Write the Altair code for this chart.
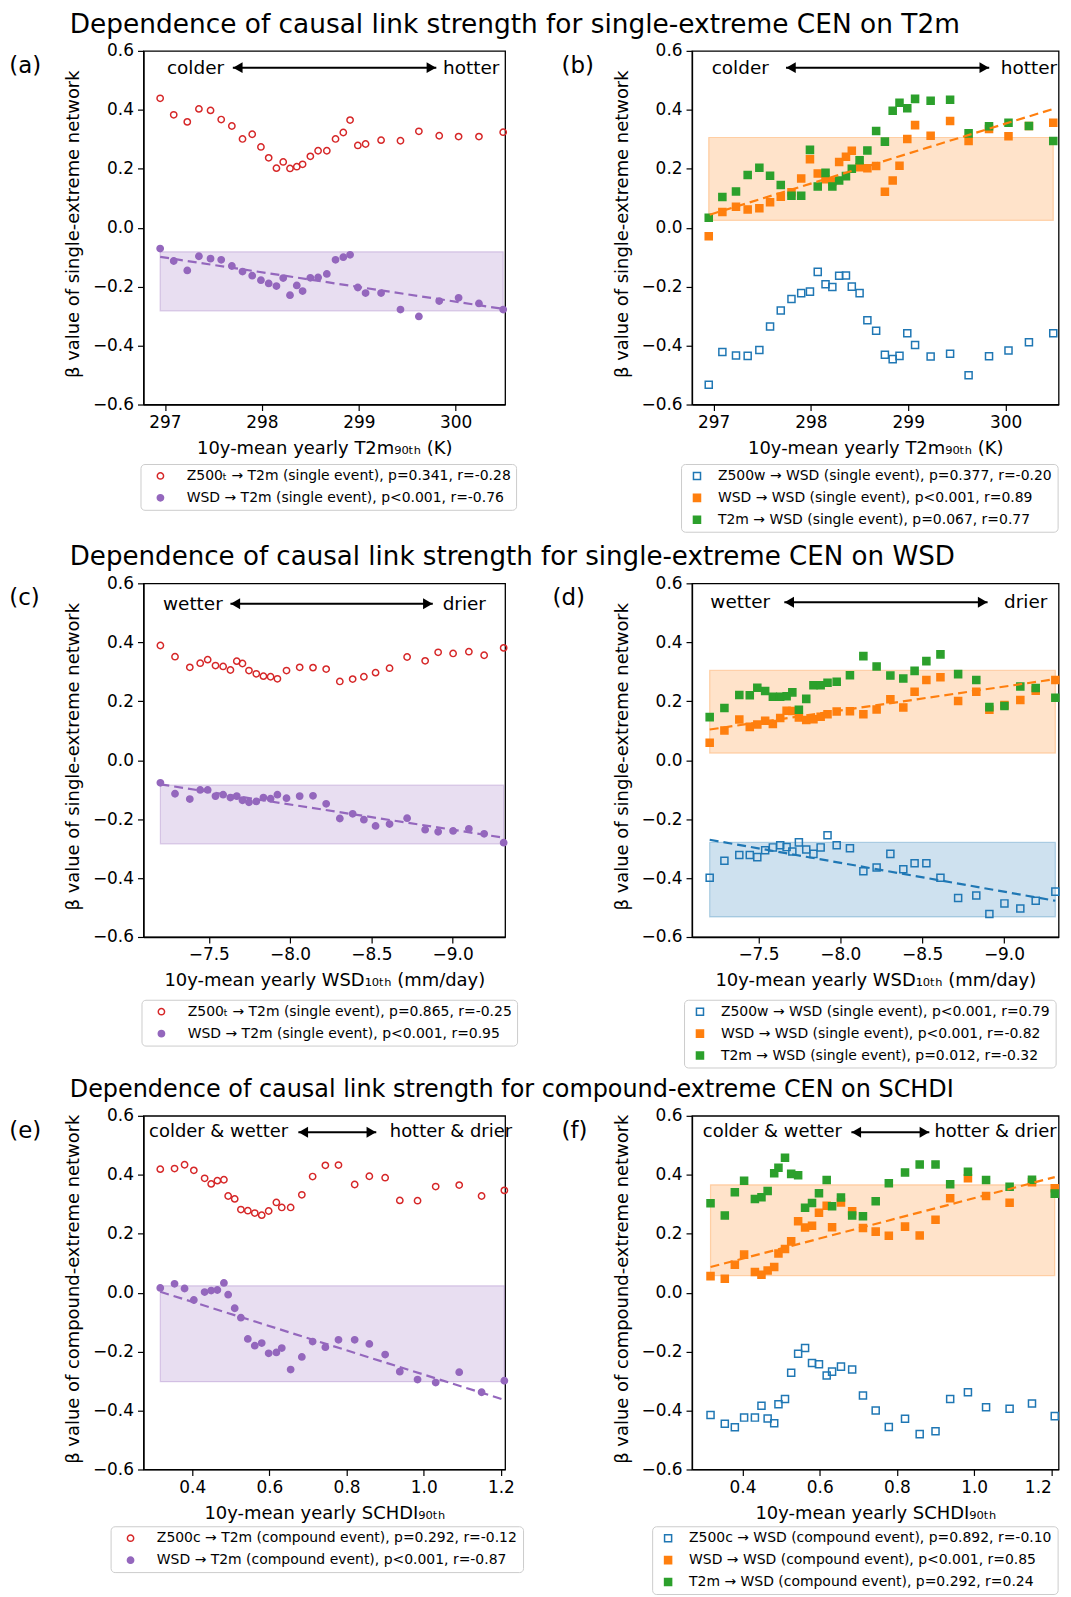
import altair as alt
import pandas as pd

FONT = "DejaVu Sans"
RED, PURPLE, BLUE, ORANGE, GREEN = "#d62728", "#9467bd", "#1f77b4", "#ff7f0e", "#2ca02c"

SECTION_TITLES = [
    "Dependence of causal link strength for single-extreme CEN on T2m",
    "Dependence of causal link strength for single-extreme CEN on WSD",
    "Dependence of causal link strength for compound-extreme CEN on SCHDI",
]
PANEL_LABELS = ["(a)", "(b)", "(c)", "(d)", "(e)", "(f)"]

# ---- x values (shared within each row) ----
T2M_X = [296.95, 297.09, 297.23, 297.35, 297.47, 297.58, 297.69, 297.80, 297.90, 297.99,
         298.07, 298.15, 298.22, 298.29, 298.36, 298.42, 298.50, 298.58, 298.67, 298.76,
         298.84, 298.91, 298.99, 299.07, 299.23, 299.43, 299.62, 299.83, 300.03, 300.24, 300.49]
WSD_X = [-7.202, -7.292, -7.383, -7.447, -7.493, -7.541, -7.588, -7.633, -7.672, -7.707,
         -7.747, -7.792, -7.836, -7.880, -7.922, -7.978, -8.059, -8.141, -8.222, -8.306,
         -8.385, -8.454, -8.526, -8.612, -8.720, -8.831, -8.911, -9.003, -9.100, -9.194, -9.314]
SCHDI_X = [0.317, 0.354, 0.380, 0.404, 0.432, 0.449, 0.465, 0.482, 0.493, 0.510,
           0.526, 0.544, 0.562, 0.580, 0.598, 0.618, 0.632, 0.655, 0.684, 0.712,
           0.745, 0.779, 0.821, 0.859, 0.900, 0.938, 0.984, 1.031, 1.092, 1.150, 1.209]

# ---- beta values ----
A_Z500 = [0.439, 0.383, 0.359, 0.403, 0.398, 0.367, 0.345, 0.301, 0.317, 0.274, 0.237, 0.202, 0.223,
          0.201, 0.207, 0.215, 0.242, 0.261, 0.261, 0.301, 0.323, 0.365, 0.279, 0.284, 0.297, 0.295,
          0.327, 0.312, 0.309, 0.309, 0.324]
A_WSD = [-0.071, -0.113, -0.145, -0.097, -0.105, -0.109, -0.130, -0.149, -0.163, -0.178, -0.189,
         -0.198, -0.171, -0.229, -0.196, -0.215, -0.170, -0.169, -0.157, -0.109, -0.100, -0.092,
         -0.203, -0.222, -0.222, -0.278, -0.301, -0.249, -0.238, -0.257, -0.278]

B_Z500 = [-0.533, -0.422, -0.434, -0.435, -0.415, -0.335, -0.281, -0.242, -0.222, -0.217, -0.150,
          -0.192, -0.201, -0.163, -0.162, -0.200, -0.222, -0.314, -0.350, -0.431, -0.446, -0.435,
          -0.358, -0.398, -0.437, -0.428, -0.501, -0.436, -0.417, -0.389, -0.358]
B_WSD = [-0.029, 0.053, 0.071, 0.062, 0.066, 0.086, 0.105, 0.120, 0.167, 0.232, 0.184, 0.164, 0.157,
         0.223, 0.241, 0.261, 0.205, 0.202, 0.209, 0.122, 0.160, 0.210, 0.301, 0.348, 0.312, 0.362,
         0.294, 0.335, 0.310, 0.345, 0.356]
B_T2M = [0.034, 0.104, 0.123, 0.179, 0.203, 0.176, 0.145, 0.108, 0.108, 0.264, 0.140, 0.186, 0.140,
         0.160, 0.175, 0.200, 0.229, 0.262, 0.328, 0.292, 0.397, 0.424, 0.405, 0.437, 0.431, 0.434,
         0.320, 0.344, 0.356, 0.345, 0.294]

C_Z500 = [0.389, 0.351, 0.315, 0.329, 0.341, 0.321, 0.318, 0.306, 0.336, 0.328, 0.304, 0.293, 0.285,
          0.283, 0.276, 0.304, 0.315, 0.314, 0.309, 0.267, 0.275, 0.283, 0.297, 0.312, 0.350, 0.337,
          0.366, 0.362, 0.368, 0.356, 0.381]
C_WSD = [-0.077, -0.114, -0.132, -0.101, -0.101, -0.122, -0.117, -0.127, -0.122, -0.136, -0.143,
         -0.140, -0.127, -0.131, -0.117, -0.129, -0.122, -0.121, -0.148, -0.198, -0.182, -0.202,
         -0.223, -0.217, -0.197, -0.236, -0.243, -0.240, -0.233, -0.250, -0.280]

D_Z500 = [-0.399, -0.341, -0.322, -0.322, -0.329, -0.306, -0.296, -0.289, -0.295, -0.310, -0.279,
          -0.303, -0.318, -0.296, -0.255, -0.289, -0.299, -0.377, -0.364, -0.318, -0.370, -0.350,
          -0.350, -0.399, -0.468, -0.459, -0.522, -0.486, -0.503, -0.477, -0.446]
D_WSD = [0.059, 0.101, 0.138, 0.113, 0.121, 0.134, 0.123, 0.143, 0.168, 0.167, 0.145, 0.136, 0.139,
         0.147, 0.156, 0.165, 0.166, 0.156, 0.172, 0.207, 0.179, 0.232, 0.272, 0.281, 0.201, 0.232,
         0.171, 0.187, 0.204, 0.236, 0.272]
D_T2M = [0.146, 0.177, 0.221, 0.220, 0.246, 0.235, 0.215, 0.215, 0.217, 0.230, 0.171, 0.208, 0.254,
         0.254, 0.263, 0.266, 0.288, 0.353, 0.318, 0.287, 0.277, 0.303, 0.336, 0.359, 0.292, 0.272,
         0.180, 0.184, 0.250, 0.245, 0.212]

E_Z500 = [0.419, 0.421, 0.434, 0.415, 0.388, 0.369, 0.380, 0.383, 0.328, 0.318, 0.282, 0.278, 0.270,
          0.263, 0.277, 0.306, 0.289, 0.289, 0.332, 0.394, 0.432, 0.433, 0.367, 0.395, 0.390, 0.313,
          0.312, 0.360, 0.365, 0.328, 0.347]
E_WSD = [0.016, 0.030, 0.014, -0.025, 0.002, 0.007, 0.009, 0.033, -0.007, -0.053, -0.085, -0.157,
         -0.180, -0.171, -0.206, -0.203, -0.188, -0.261, -0.218, -0.166, -0.185, -0.160, -0.160,
         -0.174, -0.210, -0.268, -0.295, -0.305, -0.270, -0.338, -0.299]

F_Z500 = [-0.415, -0.445, -0.457, -0.424, -0.424, -0.384, -0.427, -0.443, -0.379, -0.361, -0.272,
          -0.207, -0.188, -0.239, -0.243, -0.281, -0.268, -0.251, -0.261, -0.349, -0.400, -0.456,
          -0.428, -0.480, -0.470, -0.361, -0.338, -0.389, -0.394, -0.376, -0.419]
F_WSD = [0.056, 0.047, 0.095, 0.129, 0.070, 0.061, 0.075, 0.087, 0.133, 0.148, 0.174, 0.242, 0.221,
         0.227, 0.271, 0.295, 0.222, 0.306, 0.276, 0.219, 0.207, 0.193, 0.224, 0.194, 0.247, 0.320,
         0.388, 0.328, 0.305, 0.375, 0.354]
F_T2M = [0.303, 0.262, 0.341, 0.380, 0.318, 0.324, 0.345, 0.405, 0.424, 0.458, 0.403, 0.398, 0.288,
         0.304, 0.337, 0.382, 0.293, 0.323, 0.262, 0.259, 0.310, 0.371, 0.408, 0.435, 0.435, 0.368,
         0.410, 0.382, 0.359, 0.383, 0.336]

# ---- legend labels ----
LEG_A = ["Z500ₜ → T2m (single event), p=0.341, r=-0.28", "WSD → T2m (single event), p<0.001, r=-0.76"]
LEG_B = ["Z500w → WSD (single event), p=0.377, r=-0.20", "WSD → WSD (single event), p<0.001, r=0.89",
         "T2m → WSD (single event), p=0.067, r=0.77"]
LEG_C = ["Z500ₜ → T2m (single event), p=0.865, r=-0.25", "WSD → T2m (single event), p<0.001, r=0.95"]
LEG_D = ["Z500w → WSD (single event), p<0.001, r=0.79", "WSD → WSD (single event), p<0.001, r=-0.82",
         "T2m → WSD (single event), p=0.012, r=-0.32"]
LEG_E = ["Z500c → T2m (compound event), p=0.292, r=-0.12", "WSD → T2m (compound event), p<0.001, r=-0.87"]
LEG_F = ["Z500c → WSD (compound event), p=0.892, r=-0.10", "WSD → WSD (compound event), p<0.001, r=0.85",
         "T2m → WSD (compound event), p=0.292, r=0.24"]

# ---- regression line end points and shaded ranges ----
LINE_A = [(296.95, 300.50, -0.099, -0.276, PURPLE)]
LINE_B = [(296.96, 300.49, 0.044, 0.403, ORANGE)]
LINE_C = [(-7.202, -9.314, -0.082, -0.263, PURPLE)]
LINE_D = [(-7.202, -9.314, 0.104, 0.275, ORANGE), (-7.202, -9.314, -0.270, -0.477, BLUE)]
LINE_E = [(0.317, 1.209, 0.003, -0.364, PURPLE)]
LINE_F = [(0.317, 1.209, 0.087, 0.392, ORANGE)]

RECT_A = [(296.95, 300.49, -0.282, -0.082, PURPLE)]
RECT_B = [(296.95, 300.49, 0.025, 0.306, ORANGE)]
RECT_C = [(-7.202, -9.314, -0.284, -0.085, PURPLE)]
RECT_D = [(-7.202, -9.314, 0.024, 0.305, ORANGE), (-7.202, -9.314, -0.532, -0.279, BLUE)]
RECT_E = [(0.317, 1.209, -0.302, 0.023, PURPLE)]
RECT_F = [(0.317, 1.209, 0.058, 0.366, ORANGE)]

# ---- direction annotations: (left text, x), (right text, x), arrow (x0, x1), y ----
ANN_A = (("colder", 297.02), ("hotter", 300.45), (297.70, 299.80), 0.543)
ANN_B = (("colder", 296.98), ("hotter", 300.53), (297.744, 299.832), 0.543)
ANN_C = (("wetter", -7.218), ("drier", -9.205), (-7.633, -8.878), 0.531)
ANN_D = (("wetter", -7.206), ("drier", -9.265), (-7.658, -8.900), 0.536)
ANN_E = (("colder & wetter", 0.288), ("hotter & drier", 1.229), (0.675, 0.877), 0.544)
ANN_F = (("colder & wetter", 0.297), ("hotter & drier", 1.214), (0.682, 0.884), 0.544)

Y_TICKS = [-0.6, -0.4, -0.2, 0.0, 0.2, 0.4, 0.6]
H = 355
W_L, W_R = 363, 368


def panel(label, label_x, xs, series, xdomain, xreverse, xticks, xfmt, xtitle, ytitle, width,
          rects, lines, ann, ann_size, legend_x, legend_y, sym_off, lab_off, msize,
          section=None, section_size=26.5, flush=False):
    xscale = alt.Scale(domain=xdomain, reverse=xreverse, nice=False, zero=False)
    yscale = alt.Scale(domain=[-0.6, 0.6], nice=False, zero=False)
    xaxis = alt.Axis(values=xticks, format=xfmt, title=xtitle, titleX=width / 2, titleY=44,
                     titleBaseline="middle", labelFlush=flush)
    yaxis = alt.Axis(values=Y_TICKS, format=".1f", title=ytitle, titleX=-70, titleY=H / 2 - 4,
                     titleBaseline="middle", titleAngle=270, labelFlush=False)
    X = alt.X("x:Q", scale=xscale, axis=xaxis)
    Y = alt.Y("y:Q", scale=yscale, axis=yaxis)
    layers = []
    for (x0, x1, y0, y1, c) in rects:
        df = pd.DataFrame({"x": [x0], "x2": [x1], "y": [y0], "y2": [y1]})
        layers.append(alt.Chart(df).mark_rect(fill=c, fillOpacity=0.22, stroke=c, strokeOpacity=0.3,
                                              strokeWidth=1.2)
                      .encode(x=X, x2="x2:Q", y=Y, y2="y2:Q"))
    rows = []
    for name, vals, c, shp, filled in series:
        for xv, yv in zip(xs, vals):
            rows.append({"x": xv, "y": yv, "series": name})
    names = [s[0] for s in series]
    strokes = [s[2] for s in series]
    shapes = [s[3] for s in series]
    fills = [s[2] if s[4] else "transparent" for s in series]
    leg = alt.Legend(orient="none", legendX=legend_x, legendY=legend_y, title=None,
                     strokeColor="#cccccc", fillColor="white", cornerRadius=4, padding=5,
                     rowPadding=8, symbolOffset=sym_off, labelOffset=lab_off,
                     symbolStrokeWidth=1.5, symbolSize=msize, labelLimit=700, labelFont=FONT,
                     labelFontSize=14, labelColor="black")
    layers.append(
        alt.Chart(pd.DataFrame(rows)).mark_point(filled=False, opacity=1, strokeWidth=1.5, size=msize)
        .encode(x=X, y=Y,
                shape=alt.Shape("series:N", scale=alt.Scale(domain=names, range=shapes), legend=leg),
                stroke=alt.Stroke("series:N", scale=alt.Scale(domain=names, range=strokes), legend=leg),
                fill=alt.Fill("series:N", scale=alt.Scale(domain=names, range=fills), legend=leg))
    )
    for (x0, x1, y0, y1, c) in lines:
        df = pd.DataFrame({"x": [x0, x1], "y": [y0, y1]})
        layers.append(alt.Chart(df).mark_line(color=c, strokeDash=[9, 5], strokeWidth=2.2)
                      .encode(x=X, y=Y))
    (lt, lx), (rt, rx), (a0, a1), ay = ann
    layers.append(alt.Chart(pd.DataFrame({"x": [lx], "y": [ay], "t": [lt]}))
                  .mark_text(align="left", baseline="middle", font=FONT, fontSize=ann_size, color="black")
                  .encode(x=X, y=Y, text="t:N"))
    layers.append(alt.Chart(pd.DataFrame({"x": [rx], "y": [ay], "t": [rt]}))
                  .mark_text(align="right", baseline="middle", font=FONT, fontSize=ann_size, color="black")
                  .encode(x=X, y=Y, text="t:N"))
    layers.append(alt.Chart(pd.DataFrame({"x": [a0], "x2": [a1], "y": [ay]}))
                  .mark_rule(color="black", strokeWidth=2).encode(x=X, x2="x2:Q", y=Y))
    layers.append(alt.Chart(pd.DataFrame({"x": [a0], "y": [ay]}))
                  .mark_point(shape="triangle-left", filled=True, color="black", opacity=1, size=120, xOffset=5)
                  .encode(x=X, y=Y))
    layers.append(alt.Chart(pd.DataFrame({"x": [a1], "y": [ay]}))
                  .mark_point(shape="triangle-right", filled=True, color="black", opacity=1, size=120, xOffset=-5)
                  .encode(x=X, y=Y))
    layers.append(alt.Chart(pd.DataFrame({"t": [label]}))
                  .mark_text(align="left", baseline="middle", font=FONT, fontSize=23, color="black")
                  .encode(x=alt.value(label_x), y=alt.value(15), text="t:N"))
    if section:
        layers.append(alt.Chart(pd.DataFrame({"t": [section]}))
                      .mark_text(align="left", baseline="middle", font=FONT, fontSize=section_size,
                                 color="black")
                      .encode(x=alt.value(-74), y=alt.value(-26), text="t:N"))
    return alt.layer(*layers).properties(width=width, height=H)


T2M_TITLE = "10y-mean yearly T2m₉₀ₜₕ (K)"
WSD_TITLE = "10y-mean yearly WSD₁₀ₜₕ (mm/day)"
SCHDI_TITLE = "10y-mean yearly SCHDI₉₀ₜₕ"
Y_SINGLE = "β value of single-extreme network"
Y_COMP = "β value of compound-extreme network"

pa = panel(PANEL_LABELS[0], -134.7, T2M_X,
           [(LEG_A[0], A_Z500, RED, "circle", False), (LEG_A[1], A_WSD, PURPLE, "circle", True)],
           [296.778, 300.51], False, [297, 298, 299, 300], "d", T2M_TITLE, Y_SINGLE, W_L,
           RECT_A, LINE_A, ANN_A, 18.5, -3, 414.7, 8, 19.4, 40, SECTION_TITLES[0], 26.5)
pb = panel(PANEL_LABELS[1], -131, T2M_X,
           [(LEG_B[0], B_Z500, BLUE, "square", False), (LEG_B[1], B_WSD, ORANGE, "square", True),
            (LEG_B[2], B_T2M, GREEN, "square", True)],
           [296.778, 300.545], False, [297, 298, 299, 300], "d", T2M_TITLE, Y_SINGLE, W_R,
           RECT_B, LINE_B, ANN_B, 18.5, -11, 414.7, 4, 14, 50)
pc = panel(PANEL_LABELS[2], -134.7, WSD_X,
           [(LEG_C[0], C_Z500, RED, "circle", False), (LEG_C[1], C_WSD, PURPLE, "circle", True)],
           [-9.323, -7.098], True, [-7.5, -8.0, -8.5, -9.0], ".1f", WSD_TITLE, Y_SINGLE, W_L,
           RECT_C, LINE_C, ANN_C, 18.5, -2, 418, 8, 19.4, 40, SECTION_TITLES[1], 26.2)
pd_ = panel(PANEL_LABELS[3], -140, WSD_X,
            [(LEG_D[0], D_Z500, BLUE, "square", False), (LEG_D[1], D_WSD, ORANGE, "square", True),
             (LEG_D[2], D_T2M, GREEN, "square", True)],
            [-9.334, -7.094], True, [-7.5, -8.0, -8.5, -9.0], ".1f", WSD_TITLE, Y_SINGLE, W_R,
            RECT_D, LINE_D, ANN_D, 18.5, -8, 418, 4, 14, 50)
pe = panel(PANEL_LABELS[4], -134.7, SCHDI_X,
           [(LEG_E[0], E_Z500, RED, "circle", False), (LEG_E[1], E_WSD, PURPLE, "circle", True)],
           [0.2735, 1.211], False, [0.4, 0.6, 0.8, 1.0, 1.2], ".1f", SCHDI_TITLE, Y_COMP, W_L,
           RECT_E, LINE_E, ANN_E, 18, -33, 412, 8, 19.4, 40, SECTION_TITLES[2], 24)
pf = panel(PANEL_LABELS[5], -131, SCHDI_X,
           [(LEG_F[0], F_Z500, BLUE, "square", False), (LEG_F[1], F_WSD, ORANGE, "square", True),
            (LEG_F[2], F_T2M, GREEN, "square", True)],
           [0.269, 1.219], False, [0.4, 0.6, 0.8, 1.0, 1.2], ".1f", SCHDI_TITLE, Y_COMP, W_R,
           RECT_F, LINE_F, ANN_F, 18, -40, 412, 4, 14, 50, flush=12)

chart = alt.concat(pa, pb, pc, pd_, pe, pf, columns=2, spacing={"row": 179.5, "column": 187.6},
                   bounds="flush")
chart = chart.resolve_scale(x="independent", y="independent", shape="independent",
                            stroke="independent", fill="independent")
chart = chart.resolve_legend(shape="independent", stroke="independent", fill="independent")
chart = chart.properties(padding={"left": 0, "top": 0, "right": 0, "bottom": 0})
chart = chart.configure_view(stroke="black", strokeWidth=1.3).configure_axis(
    labelFont=FONT, labelFontSize=17, labelColor="black", titleFont=FONT, titleFontSize=18,
    titleFontWeight="normal", titleColor="black", tickColor="black", tickSize=6, tickWidth=1.2,
    domainColor="black", domainWidth=1.3, grid=False, labelPadding=4)

chart.save("out.html", embed_options={"renderer": "svg", "actions": False})
